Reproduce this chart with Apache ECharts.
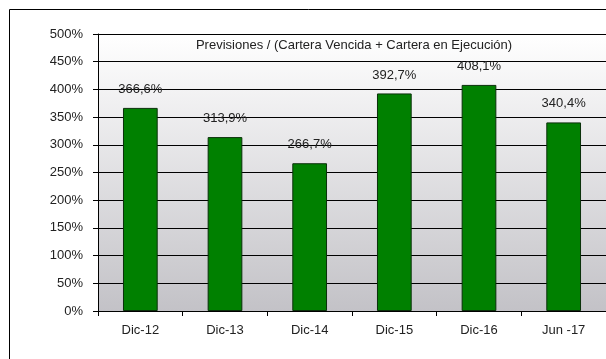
<!DOCTYPE html>
<html>
<head>
<meta charset="utf-8">
<script src="https://cdn.jsdelivr.net/npm/echarts@6/dist/echarts.min.js"></script>
<style>
  html, body { margin: 0; padding: 0; background: #ffffff; }
  #chart { width: 606px; height: 359px; }
</style>
</head>
<body>
<div id="chart"></div>
<script>
// Ratio de previsiones sobre cartera vencida + cartera en ejecución
const categories = ['Dic-12', 'Dic-13', 'Dic-14', 'Dic-15', 'Dic-16', 'Jun -17'];
const ratioValues = [366.6, 313.9, 266.7, 392.7, 408.1, 340.4];
const yTicks = [0, 50, 100, 150, 200, 250, 300, 350, 400, 450, 500];
const chartTitle = 'Previsiones / (Cartera Vencida + Cartera en Ejecución)';

const FONT = '"Liberation Sans", Arial, sans-serif';
const fmtPct = v => v.toFixed(1).replace('.', ',') + '%';

const chart = echarts.init(document.getElementById('chart'), null, { renderer: 'canvas' });

chart.setOption({
  animation: false,
  backgroundColor: '#ffffff',
  title: {
    text: chartTitle,
    left: 349,
    top: 34,
    textAlign: 'center',
    textStyle: { fontFamily: FONT, fontSize: 13, fontWeight: 'normal', color: '#222222' }
  },
  graphic: [{
    type: 'rect',
    shape: { x: 9.5, y: 9.5, width: 700, height: 400 },
    style: { fill: 'none', stroke: '#000000', lineWidth: 1 },
    z: 100
  }],
  grid: {
    left: 98,
    right: -4,
    top: 34,
    bottom: 48,
    show: true,
    borderWidth: 0,
    backgroundColor: new echarts.graphic.LinearGradient(0, 0, 0, 1, [
      { offset: 0, color: '#ffffff' },
      { offset: 1, color: '#c3c2c7' }
    ])
  },
  xAxis: {
    type: 'category',
    data: categories,
    axisLine: { lineStyle: { color: '#000000', width: 1 } },
    axisTick: { show: true, length: 5, lineStyle: { color: '#000000' } },
    axisLabel: { fontFamily: FONT, fontSize: 13, color: '#222222', margin: 13 }
  },
  yAxis: {
    type: 'value',
    min: yTicks[0],
    max: yTicks[yTicks.length - 1],
    interval: 50,
    axisLine: { show: true, lineStyle: { color: '#000000', width: 1 } },
    axisTick: { show: true, length: 5, lineStyle: { color: '#000000' } },
    axisLabel: { fontFamily: FONT, fontSize: 13, color: '#222222', margin: 15, formatter: v => v + '%' },
    splitLine: { show: true, lineStyle: { color: '#000000', width: 1 } }
  },
  series: [{
    type: 'bar',
    data: ratioValues,
    barWidth: '41%',
    itemStyle: { color: '#008000', borderColor: '#0a300a', borderWidth: 1 },
    label: {
      show: true,
      position: 'top',
      distance: 12,
      fontFamily: FONT,
      fontSize: 13,
      color: '#222222',
      formatter: p => fmtPct(p.value)
    },
    z: 3
  }]
});
</script>
</body>
</html>
